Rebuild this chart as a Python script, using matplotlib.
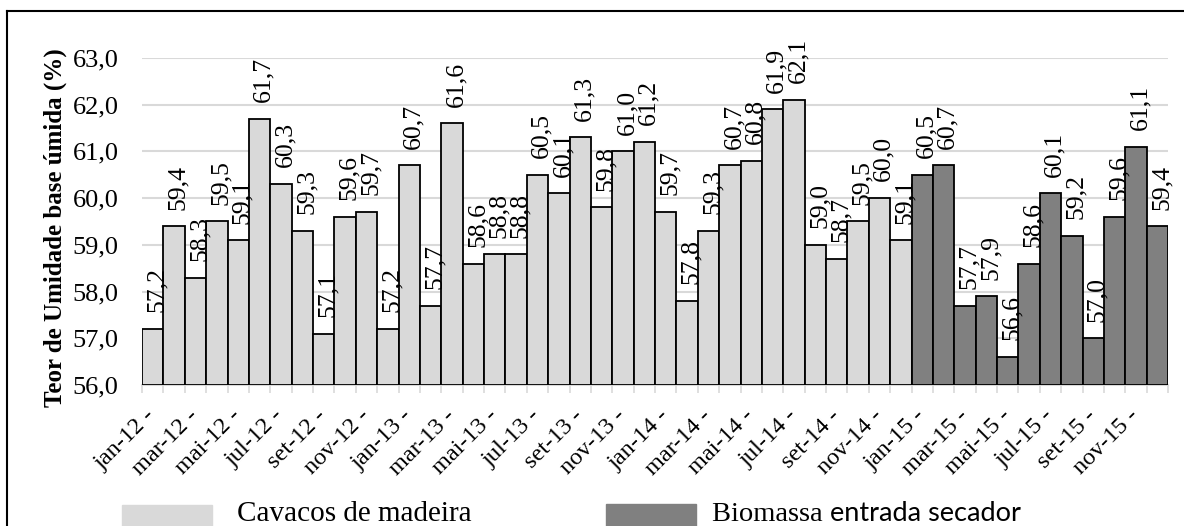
import matplotlib
matplotlib.use('Agg')
import matplotlib.pyplot as plt
from matplotlib.patches import Rectangle
from matplotlib.lines import Line2D
import numpy as np

plt.rcParams['font.family'] = ['Liberation Serif', 'DejaVu Serif']

meses = ["jan", "fev", "mar", "abr", "mai", "jun",
         "jul", "ago", "set", "out", "nov", "dez"]
anos = ["12", "13", "14", "15"]
categorias = [m + "-" + a for a in anos for m in meses]

# Cavacos de madeira (jan-12 .. dez-14)
cavacos = [57.2, 59.4, 58.3, 59.5, 59.1, 61.7, 60.3, 59.3, 57.1, 59.6, 59.7, 57.2,
           60.7, 57.7, 61.6, 58.6, 58.8, 58.8, 60.5, 60.1, 61.3, 59.8, 61.0, 61.2,
           59.7, 57.8, 59.3, 60.7, 60.8, 61.9, 62.1, 59.0, 58.7, 59.5, 60.0, 59.1]
# Biomassa entrada secador (jan-15 .. dez-15)
biomassa = [60.5, 60.7, 57.7, 57.9, 56.6, 58.6, 60.1, 59.2, 57.0, 59.6, 61.1, 59.4]

cor_cav = "#d9d9d9"
cor_bio = "#808080"

W, H = 1184, 526
fig = plt.figure(figsize=(W / 100, H / 100), dpi=100)
ax = fig.add_axes([142 / W, 1 - 385 / H, (1168 - 142) / W, (385 - 58) / H])

y0 = 56.0
x_cav = np.arange(len(cavacos))
x_bio = np.arange(len(cavacos), len(cavacos) + len(biomassa))
ax.bar(x_cav, np.array(cavacos) - y0, bottom=y0, width=1.0, color=cor_cav,
       edgecolor="black", linewidth=1.3, zorder=3)
ax.bar(x_bio, np.array(biomassa) - y0, bottom=y0, width=1.0, color=cor_bio,
       edgecolor="black", linewidth=1.3, zorder=3)

for x, v in zip(np.concatenate([x_cav, x_bio]), cavacos + biomassa):
    ax.annotate(f"{v:.1f}".replace(".", ","), (x, v), xytext=(3, 12),
                textcoords="offset points", rotation=90, ha="center", va="bottom",
                fontsize=18.5, annotation_clip=False, zorder=4)

ax.set_ylim(56, 63)
ax.set_xlim(-0.5, len(categorias) - 0.5)
ax.set_yticks(np.arange(56, 63.1, 1.0))
ax.set_yticklabels([f"{v:.1f}".replace(".", ",") for v in np.arange(56, 63.1, 1.0)],
                   fontsize=19)
ax.tick_params(axis="y", length=0, pad=17)
ax.grid(axis="y", color="#d9d9d9", linewidth=1.5, zorder=0)

# ticks between categories
ax.set_xticks(np.arange(-0.5, len(categorias), 1.0))
ax.set_xticklabels([])
ax.tick_params(axis="x", which="major", length=6, color="#d9d9d9", width=1.2)
ax.set_xticks(np.arange(0, len(categorias), 2), minor=True)
ax.set_xticklabels([c + " -" for c in categorias[::2]], minor=True,
                   rotation=45, ha="right", va="center", rotation_mode="anchor",
                   fontsize=17.5)
ax.tick_params(axis="x", which="minor", length=0, pad=20)

for s in ["left", "right", "top"]:
    ax.spines[s].set_visible(False)
ax.spines["bottom"].set_color("#d9d9d9")
ax.spines["bottom"].set_linewidth(1.5)

fig.text(55 / W, 1 - 228 / H, "Teor de Umidade base úmida (%)", rotation=90,
         ha="center", va="center", fontsize=18, fontweight="bold")

# legend at bottom
fig.add_artist(Rectangle((122 / W, 0), 90 / W, 21 / H, transform=fig.transFigure,
                         color=cor_cav, clip_on=False))
fig.text(237 / W, 1 - 521 / H, "Cavacos de madeira", fontsize=21, va="baseline")
fig.add_artist(Rectangle((606 / W, 0), 90 / W, 22 / H, transform=fig.transFigure,
                         color=cor_bio, clip_on=False))
t = fig.text(712 / W, 1 - 521 / H, "Biomassa ", fontsize=20.5, va="baseline")
fig.canvas.draw()
bb = t.get_window_extent()
fig.text(bb.x1 / W, 1 - 521 / H, "entrada secador", fontsize=19.5, va="baseline",
         family=["Lato", "DejaVu Sans"])

# outer frame (left and top edges)
fig.add_artist(Line2D([7 / W, 7 / W], [0, 1 - 11 / H], color="black", linewidth=1.5,
                      transform=fig.transFigure))
fig.add_artist(Line2D([7 / W, 1], [1 - 11 / H, 1 - 11 / H], color="black", linewidth=1.5,
                      transform=fig.transFigure))

fig.savefig("out.png", dpi=100, facecolor="white")
